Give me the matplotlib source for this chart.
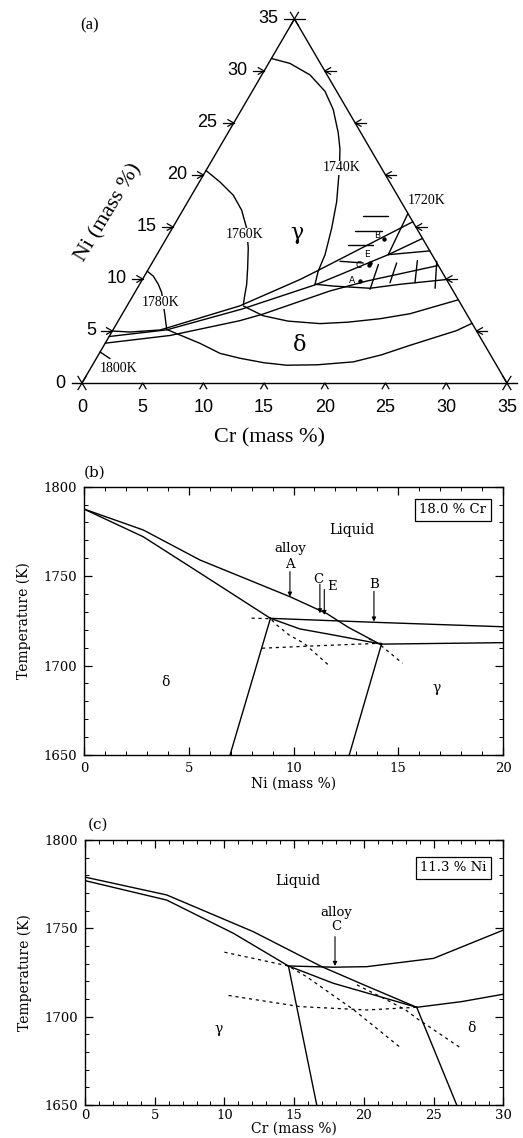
import numpy as np
import matplotlib.pyplot as plt

plt.rcParams['font.family'] = 'DejaVu Serif'

# ---------------- (a) liquidus projection, points are (Cr, Ni) in mass %
tern_ticks = [0, 5, 10, 15, 20, 25, 30, 35]

iso_1740 = [(0, 31.2), (1.76, 30.73), (3.97, 29.62), (6.0, 28.04), (7.55, 26.29),
            (9.07, 24.07), (10.01, 22.48), (10.91, 20.58), (12.27, 17.41), (13.13, 14.87),
            (13.85, 12.34), (14.08, 10.75), (14.45, 9.49)]
iso_1760 = [(0, 20.43), (1.71, 19.32), (3.44, 18.05), (4.84, 16.62), (6.13, 14.87),
            (7.21, 12.97), (8.11, 11.07), (8.82, 9.49), (9.27, 8.21), (9.53, 7.52)]
iso_1780 = [(0, 10.75), (0.73, 10.28), (1.54, 9.49), (2.22, 8.69), (3.6, 6.47), (4.37, 5.2)]
iso_1800 = [(0, 2.98), (1.13, 2.35)]

line_1 = [(0, 5.0), (1.5, 4.9), (3.9, 5.1), (9.3, 7.42), (13.0, 9.96),
          (13.95, 10.75), (19.5, 15.5)]
line_2 = [(0, 4.47), (4.42, 5.11), (9.6, 7.1), (14.59, 9.49), (19.06, 12.34), (21.1, 13.9)]
line_3 = [(0, 3.83), (4.97, 4.57), (10.0, 5.99), (11.61, 6.63), (16.0, 8.85),
          (18.55, 9.8), (23.7, 11.3)]
line_3b = [(19.06, 12.34), (22.3, 12.7)]
steep = [(19.06, 12.34), (18.7, 16.3)]
trough_1720 = [(14.43, 9.5), (16.04, 9.32), (19.17, 9.11), (21.45, 9.49), (25.05, 9.95)]
curve_6 = [(9.6, 7.4), (11.67, 6.47), (14.0, 5.95), (16.75, 5.71), (19.0, 5.85),
           (21.46, 6.18), (23.69, 6.66), (27.0, 8.0)]
delta_low = [(4.4, 5.15), (5.8, 4.6), (7.82, 3.81), (9.94, 2.85), (11.82, 2.38),
             (14.0, 1.95), (16.0, 1.71), (18.5, 1.75), (21.33, 2.03), (23.3, 2.7),
             (25.2, 3.62), (28.34, 5.04), (29.26, 5.74)]

tie_steep = [[(19.22, 9.01), (18.72, 11.39)], [(20.55, 9.64), (20.15, 11.54)],
             [(22.61, 9.64), (21.74, 11.77)], [(24.53, 9.11), (23.37, 11.7)]]
tie_flat = [[(15.13, 16.08), (17.19, 16.08)], [(15.16, 14.65), (17.36, 14.65)],
            [(15.29, 13.29), (17.35, 13.29)], [(15.4, 11.7), (17.4, 11.54)]]

alloy_names = ['A', 'C', 'E', 'B']
alloy_cr = 18.0
alloy_ni = [9.8, 11.3, 11.5, 13.8]

iso_labels = ['1740K', '1760K', '1780K', '1800K', '1720K']
iso_label_pos = [(11.05, 20.68), (6.31, 14.24), (2.56, 7.74), (2.29, 1.4), (19.64, 17.5)]

# ---------------- (b) section at 18.0 % Cr : x = Ni, y = T
liq_b_x = [0, 2.83, 5.54, 9.83, 11.6, 12.6, 14.2]
liq_b_t = [1787.5, 1775.8, 1759, 1738.5, 1729, 1721.5, 1711.5]
sold_b_x = [0, 2.83, 5.5, 8.9]
sold_b_t = [1787.5, 1772, 1752, 1726.4]
flat_b_x = [8.9, 13.84, 20]
flat_b_t = [1726.4, 1724.2, 1721.7]
mid_b_x = [8.9, 10.3, 11.9, 14.2]
mid_b_t = [1726.4, 1720.5, 1717.1, 1712]
eut_b_x = [14.2, 20]
eut_b_t = [1712, 1712.8]
solv_d_b_x = [8.9, 6.97]
solv_d_b_t = [1726.4, 1650]
solv_g_b_x = [14.2, 12.66]
solv_g_b_t = [1712, 1650]
dash_b = [([8.0, 8.9, 9.2, 9.8, 10.5, 11.7], [1726.5, 1726.2, 1722.7, 1717, 1712.5, 1700]),
          ([8.5, 11.0, 14.2], [1709.7, 1711.0, 1712.5]),
          ([13.6, 14.2, 15.2], [1715, 1711, 1701.3])]
arrows_b = {'A': (9.83, 1752.5, 1738.5), 'C': (11.26, 1745.5, 1729.2),
            'E': (11.47, 1742.5, 1728.3), 'B': (13.84, 1741.5, 1724.6)}

# ---------------- (c) section at 11.3 % Ni : x = Cr, y = T
liq_c_x = [0, 5.86, 12.07, 16.98, 20.0, 23.79]
liq_c_t = [1779, 1768.9, 1748.1, 1728.3, 1718, 1705.3]
solg_c_x = [0, 5.86, 10.64, 14.59]
solg_c_t = [1777, 1766, 1747.2, 1728.7]
sold_c_x = [14.59, 17.81, 21.16, 23.79]
sold_c_t = [1728.7, 1718.9, 1711.3, 1705.3]
dliq_c_x = [14.59, 17.81, 20.2, 25.0, 30.0]
dliq_c_t = [1728.7, 1728, 1728.3, 1733, 1749]
right_c_x = [23.79, 27.0, 30.0]
right_c_t = [1705.3, 1708.5, 1712.7]
solv_g_c_x = [14.59, 16.62]
solv_g_c_t = [1728.7, 1650]
solv_d_c_x = [23.79, 26.66]
solv_d_c_t = [1705.3, 1650]
dash_c = [([10.0, 14.59, 15.9, 19.25, 22.7], [1736.5, 1728.7, 1722.6, 1704, 1682]),
          ([10.3, 15.4, 20.2, 23.79], [1712, 1705.7, 1703.8, 1705.3]),
          ([19.5, 21.2, 23.0, 23.8, 27.0], [1718, 1711.3, 1703.8, 1699, 1682])]
arrow_c = (17.93, 1745.3, 1728.7)

W, H = 523, 1138
fig = plt.figure(figsize=(W / 100, H / 100), dpi=100)


def px(x, y):
    return x / W, 1 - y / H


def tern(c, n):
    c = np.asarray(c, float)
    n = np.asarray(n, float)
    return c + n / 2, n * np.sqrt(3) / 2


# ======================= panel (a)
axa = fig.add_axes([0, 1 - 440 / H, 1, 440 / H])
axa.set_xlim(-82 / 12.14, 441 / 12.14)
axa.set_ylim(-57 / 12.01, 383 / 12.01)
axa.axis('off')


def tplot(pts, **kw):
    c, n = zip(*pts)
    X, Y = tern(c, n)
    axa.plot(X, Y, color='k', lw=1.0, solid_capstyle='round', solid_joinstyle='round', **kw)


# triangle outline
tplot([(0, 35), (35, 0)])
tplot([(0, 0), (0, 35)])
axa.plot([-0.8, 35.8], [0, 0], color='k', lw=1.0)

r, d = 0.55, 0.9
for v in tern_ticks[1:-1]:
    X, Y = tern(0, v)
    axa.plot([X - d, X], [Y, Y], 'k', lw=0.9)
    axa.plot([X - r * 0.87, X, X - r * 0.87], [Y + r * 0.5, Y, Y - r * 0.5], 'k', lw=0.9)
    X, Y = tern(35 - v, v)
    axa.plot([X, X + d], [Y, Y], 'k', lw=0.9)
    axa.plot([X + r * 0.87, X, X + r * 0.87], [Y + r * 0.5, Y, Y - r * 0.5], 'k', lw=0.9)
    X, Y = tern(v, 0)
    axa.plot([X - r * 0.5, X, X + r * 0.5], [Y - r * 0.87, Y, Y - r * 0.87], 'k', lw=0.9)
for c, n in [(0, 0), (35, 0), (0, 35)]:
    X, Y = tern(c, n)
    axa.plot([X - 0.6 * r, X + 0.6 * r], [Y - r, Y + r], 'k', lw=0.9)
    axa.plot([X - 0.6 * r, X + 0.6 * r], [Y + r, Y - r], 'k', lw=0.9)
X, Y = tern(0, 35)
axa.plot([X - d, X + d], [Y, Y], 'k', lw=0.9)

for v in tern_ticks:
    X, Y = tern(0, v)
    axa.text(X - 1.35, Y, str(v), ha='right', va='center', fontsize=13,
             family='Liberation Sans')
    X, Y = tern(v, 0)
    axa.text(X, Y - 2.05, str(v), ha='center', va='center', fontsize=13,
             family='Liberation Sans')

for pts in [iso_1740, iso_1760, iso_1780, iso_1800, line_1, line_2, line_3, line_3b,
            steep, trough_1720, curve_6, delta_low]:
    tplot(pts)
for pts in tie_steep + tie_flat:
    tplot(pts)

for lab, (c, n) in zip(iso_labels, iso_label_pos):
    X, Y = tern(c, n)
    axa.text(X, Y, lab, ha='center', va='center', fontsize=10, family='Liberation Serif',
             bbox=dict(fc='white', ec='none', pad=0.3))

ax_, ay_ = tern([alloy_cr] * 4, alloy_ni)
axa.plot(ax_, ay_, 'o', color='k', ms=2.2)
offs = {'A': (-5.5, 0.5), 'C': (-7.5, 0), 'E': (-2.5, 6.5), 'B': (-5, 2.5)}
for name, X, Y in zip(alloy_names, ax_, ay_):
    axa.annotate(name, (X, Y), xytext=offs[name], textcoords='offset points',
                 ha='center', va='center', fontsize=6.5, family='DejaVu Sans')
X, Y = tern(10.48, 14.4)
axa.text(X, Y, 'γ', ha='center', va='center', fontsize=16, family='DejaVu Serif')
X, Y = tern(16.15, 3.62)
axa.text(X, Y, 'δ', ha='center', va='center', fontsize=16, family='DejaVu Serif')

fig.text(*px(90, 25), '(a)', ha='center', va='center', fontsize=12, family='Liberation Serif')
fig.text(*px(270, 438), 'Cr (mass %)', ha='center', va='center', fontsize=16,
         family='Liberation Serif')
fig.text(*px(109, 213), 'Ni (mass %)', ha='center', va='center', fontsize=16,
         family='Liberation Serif', rotation=59)


# ======================= panels (b) and (c)
def style(ax, xmax, xlabel, xpad, tpad):
    ax.set_xlim(0, xmax)
    ax.set_ylim(1650, 1800)
    ax.set_xticks(np.arange(0, xmax + 1, 5))
    ax.set_xticks(np.arange(0, xmax + 1, 1), minor=True)
    ax.set_yticks([1650, 1700, 1750, 1800])
    ax.set_yticks(np.arange(1650, 1801, 10), minor=True)
    ax.tick_params(which='both', direction='in', top=True, right=True, labelsize=9.5)
    ax.tick_params(which='major', length=6, width=0.9, pad=5)
    ax.tick_params(axis='x', which='major', pad=tpad)
    ax.tick_params(which='minor', length=3, width=0.7)
    for s in ax.spines.values():
        s.set_linewidth(1.0)
    ax.set_xlabel(xlabel, fontsize=10, labelpad=xpad)
    ax.set_ylabel('Temperature (K)', fontsize=10, labelpad=9)


kw = dict(color='k', lw=1.0)
dkw = dict(color='k', lw=0.9, linestyle=(0, (2.5, 3)))

axb = fig.add_axes([84 / W, 1 - 755 / H, 419 / W, 268.3 / H])
style(axb, 20, 'Ni (mass %)', 1, 5)
for xs, ts in [(liq_b_x, liq_b_t), (sold_b_x, sold_b_t), (flat_b_x, flat_b_t),
               (mid_b_x, mid_b_t), (eut_b_x, eut_b_t), (solv_d_b_x, solv_d_b_t),
               (solv_g_b_x, solv_g_b_t)]:
    axb.plot(xs, ts, **kw)
for xs, ts in dash_b:
    axb.plot(xs, ts, **dkw)
for name, (x, t0, t1) in arrows_b.items():
    axb.annotate('', xy=(x, t1), xytext=(x, t0),
                 arrowprops=dict(arrowstyle='-|>', lw=0.8, color='k', mutation_scale=6,
                                 shrinkA=0, shrinkB=0))
axb.text(9.83, 1765.6, 'alloy', ha='center', va='center', fontsize=9.5)
axb.text(9.83, 1756.4, 'A', ha='center', va='center', fontsize=9.5)
axb.text(11.2, 1748.2, 'C', ha='center', va='center', fontsize=9.5)
axb.text(11.85, 1744.3, 'E', ha='center', va='center', fontsize=9.5)
axb.text(13.84, 1745.3, 'B', ha='center', va='center', fontsize=9.5)
axb.text(12.78, 1776, 'Liquid', ha='center', va='center', fontsize=10)
axb.text(3.9, 1691, 'δ', ha='center', va='center', fontsize=10)
axb.text(16.83, 1687.3, 'γ', ha='center', va='center', fontsize=10)
axb.text(17.6, 1787.1, '18.0 % Cr', ha='center', va='center', fontsize=9.5,
         bbox=dict(boxstyle='square,pad=0.35', fc='white', ec='k', lw=0.9))
fig.text(*px(95, 473), '(b)', ha='center', va='center', fontsize=11)

axc = fig.add_axes([85 / W, 1 - 1105 / H, 418.3 / W, 265 / H])
style(axc, 30, 'Cr (mass %)', 0, 3)
for xs, ts in [(liq_c_x, liq_c_t), (solg_c_x, solg_c_t), (sold_c_x, sold_c_t),
               (dliq_c_x, dliq_c_t), (right_c_x, right_c_t), (solv_g_c_x, solv_g_c_t),
               (solv_d_c_x, solv_d_c_t)]:
    axc.plot(xs, ts, **kw)
for xs, ts in dash_c:
    axc.plot(xs, ts, **dkw)
x, t0, t1 = arrow_c
axc.annotate('', xy=(x, t1), xytext=(x, t0),
             arrowprops=dict(arrowstyle='-|>', lw=0.8, color='k', mutation_scale=6,
                             shrinkA=0, shrinkB=0))
axc.text(18.05, 1759.1, 'alloy', ha='center', va='center', fontsize=9.5)
axc.text(18.0, 1751, 'C', ha='center', va='center', fontsize=9.5)
axc.text(15.26, 1777, 'Liquid', ha='center', va='center', fontsize=10)
axc.text(9.56, 1693, 'γ', ha='center', va='center', fontsize=10)
axc.text(27.74, 1693.4, 'δ', ha='center', va='center', fontsize=10)
axc.text(26.42, 1784.2, '11.3 % Ni', ha='center', va='center', fontsize=9.5,
         bbox=dict(boxstyle='square,pad=0.35', fc='white', ec='k', lw=0.9))
fig.text(*px(98, 825), '(c)', ha='center', va='center', fontsize=11)

fig.savefig('out.png', dpi=100)
